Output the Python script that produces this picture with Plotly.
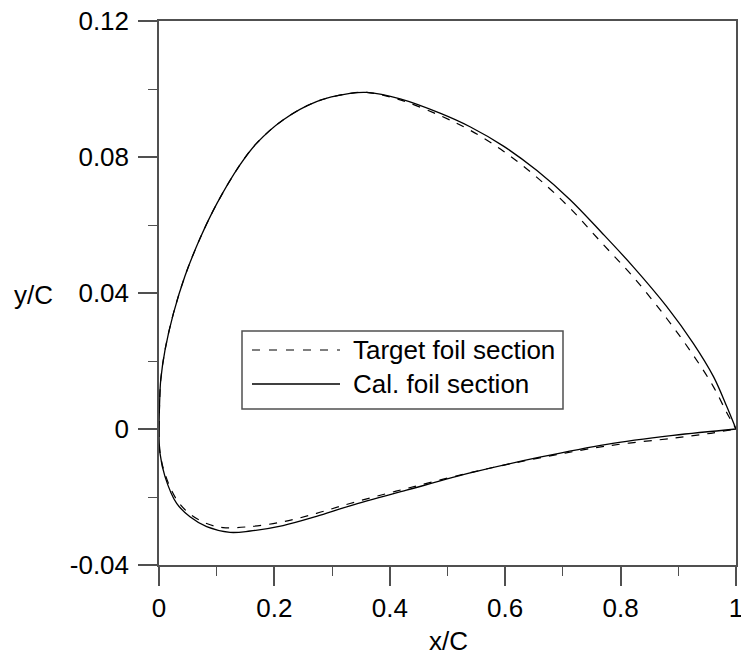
import plotly.graph_objects as go

# ---- data ----
cal_upper_x = [0, 0.001, 0.003, 0.0104, 0.025, 0.045, 0.071, 0.1, 0.14, 0.169, 0.215, 0.273,
               0.331, 0.36, 0.418, 0.487, 0.539, 0.597, 0.655, 0.712, 0.767, 0.822, 0.880,
               0.926, 0.961, 0.984, 1.0]
cal_upper_y = [0, 0.0075, 0.0144, 0.0232, 0.034, 0.0450, 0.0560, 0.0662, 0.0776, 0.0840, 0.0909,
               0.0963, 0.0987, 0.0990, 0.0971, 0.0929, 0.0889, 0.0832, 0.0760, 0.0675, 0.0578,
               0.0477, 0.0360, 0.0252, 0.0154, 0.0066, 0.0]
cal_lower_x = [0, 0.0017, 0.0104, 0.0306, 0.0537, 0.0826, 0.123, 0.158, 0.215, 0.273, 0.331,
               0.429, 0.545, 0.660, 0.776, 0.891, 1.0]
cal_lower_y = [0, -0.0071, -0.0140, -0.0219, -0.0258, -0.0287, -0.0304, -0.0300, -0.0284,
               -0.0257, -0.0226, -0.0180, -0.0127, -0.0083, -0.0045, -0.0019, 0]

tgt_upper_x = [0, 0.001, 0.003, 0.0104, 0.025, 0.045, 0.071, 0.1, 0.14, 0.169, 0.215, 0.273,
               0.331, 0.36, 0.418, 0.487, 0.539, 0.597, 0.655, 0.712, 0.767, 0.822, 0.880,
               0.926, 0.961, 0.984, 1.0]
tgt_upper_y = [0, 0.0075, 0.0144, 0.0232, 0.034, 0.0450, 0.0560, 0.0662, 0.0776, 0.0840, 0.0909,
               0.0963, 0.0987, 0.0990, 0.0968, 0.0922, 0.0879, 0.0817, 0.0740, 0.0650, 0.0548,
               0.0447, 0.0325, 0.0217, 0.0124, 0.0048, 0.0]
tgt_lower_x = [0, 0.0017, 0.0104, 0.0306, 0.0537, 0.0826, 0.111, 0.158, 0.215, 0.273, 0.331,
               0.429, 0.545, 0.660, 0.776, 0.891, 0.95, 1.0]
tgt_lower_y = [0, -0.0068, -0.0132, -0.0208, -0.0250, -0.0278, -0.0290, -0.0287, -0.0273,
               -0.0248, -0.0219, -0.0175, -0.0126, -0.0085, -0.0050, -0.0027, -0.0014, 0]

x_tick_vals = [0, 0.2, 0.4, 0.6, 0.8, 1.0]
x_tick_text = ["0", "0.2", "0.4", "0.6", "0.8", "1"]
y_tick_vals = [-0.04, 0, 0.04, 0.08, 0.12]
y_tick_text = ["-0.04", "0", "0.04", "0.08", "0.12"]

series_names = ["Target foil section", "Cal. foil section"]

FONT = "Liberation Sans, Arial, sans-serif"
AXIS_COLOR = "#505050"
FS = 26

# figure geometry in screen pixels (page body margin removed below)
W, H = 741, 655
L, R, T, B = 159, 5, 21, 90
PW, PH = W - L - R, H - T - B


def pxx(p):
    """screen x pixel -> paper coordinate"""
    return (p - L) / PW


def pxy(p):
    """screen y pixel -> paper coordinate"""
    return (H - B - p) / PH


fig = go.Figure()

target_line = dict(color="black", width=1.2, dash="8px,8px", shape="spline", smoothing=1.0)
cal_line = dict(color="black", width=1.3, shape="spline", smoothing=1.0)

for xs, ys in [(tgt_upper_x, tgt_upper_y), (tgt_lower_x, tgt_lower_y)]:
    fig.add_trace(go.Scatter(x=xs, y=ys, mode="lines", name=series_names[0],
                             showlegend=False, line=target_line))
for xs, ys in [(cal_upper_x, cal_upper_y), (cal_lower_x, cal_lower_y)]:
    fig.add_trace(go.Scatter(x=xs, y=ys, mode="lines", name=series_names[1],
                             showlegend=False, line=cal_line))

axis_common = dict(
    showgrid=False, zeroline=False, showline=True, mirror=True,
    linecolor=AXIS_COLOR, linewidth=1.5,
    ticks="outside", ticklen=19, tickwidth=1.5, tickcolor=AXIS_COLOR,
    tickfont=dict(family=FONT, size=FS, color="black"),
    ticklabeloverflow="allow", automargin=False,
)

fig.update_xaxes(range=[0, 1], tickvals=x_tick_vals, ticktext=x_tick_text,
                 minor=dict(dtick=0.1, tick0=0, ticks="outside", ticklen=9,
                            tickwidth=1.2, tickcolor=AXIS_COLOR),
                 **axis_common)
fig.update_yaxes(range=[-0.04, 0.12], tickvals=y_tick_vals, ticktext=y_tick_text,
                 ticklabelstandoff=4,
                 minor=dict(dtick=0.02, tick0=0, ticks="outside", ticklen=9,
                            tickwidth=1.2, tickcolor=AXIS_COLOR),
                 **axis_common)

shapes = [
    # legend box
    dict(type="rect", xref="paper", yref="paper",
         x0=pxx(242), x1=pxx(563), y0=pxy(409), y1=pxy(331),
         line=dict(color=AXIS_COLOR, width=1.5), fillcolor="white", layer="above"),
    dict(type="line", xref="paper", yref="paper",
         x0=pxx(252), x1=pxx(340), y0=pxy(350), y1=pxy(350),
         line=dict(color="black", width=1.2, dash="8px,9px"), layer="above"),
    dict(type="line", xref="paper", yref="paper",
         x0=pxx(252), x1=pxx(340), y0=pxy(384), y1=pxy(384),
         line=dict(color="black", width=1.3), layer="above"),
]

annotations = [
    dict(text=series_names[0], xref="paper", yref="paper", x=pxx(351), y=pxy(350),
         xanchor="left", yanchor="middle", showarrow=False,
         font=dict(family=FONT, size=FS, color="black")),
    dict(text=series_names[1], xref="paper", yref="paper", x=pxx(351), y=pxy(384),
         xanchor="left", yanchor="middle", showarrow=False,
         font=dict(family=FONT, size=FS, color="black")),
    dict(text="x/C", xref="paper", yref="paper", x=pxx(448), y=pxy(641),
         xanchor="center", yanchor="middle", showarrow=False,
         font=dict(family=FONT, size=FS, color="black")),
    dict(text="y/C", xref="paper", yref="paper", x=pxx(33), y=pxy(295),
         xanchor="center", yanchor="middle", showarrow=False,
         font=dict(family=FONT, size=FS, color="black")),
]

fig.update_layout(
    width=W, height=H,
    margin=dict(l=L, r=R, t=T, b=B, autoexpand=False),
    paper_bgcolor="white", plot_bgcolor="white",
    showlegend=False,
    shapes=shapes, annotations=annotations,
    font=dict(family=FONT, color="black"),
)

fig.write_html("out.html",
               config={"displayModeBar": False},
               post_script="document.body.style.margin='0px';"
                           "document.body.style.overflow='hidden';")
